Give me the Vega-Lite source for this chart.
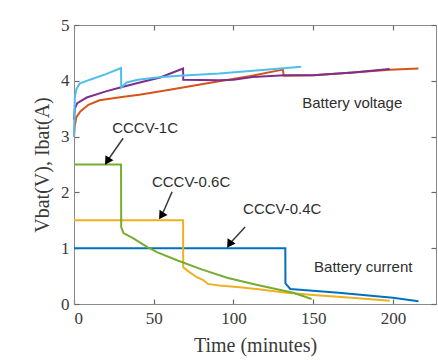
{
  "$schema": "https://vega.github.io/schema/vega-lite/v6.json",
  "width": 362,
  "height": 279,
  "autosize": {"type": "none"},
  "padding": {"left": 74, "top": 25, "right": 2, "bottom": 56},
  "background": "white",
  "config": {
    "view": {"stroke": "#8a8a8a", "strokeWidth": 1},
    "axis": {
      "domainColor": "#8a8a8a",
      "tickColor": "#6a6a6a",
      "tickSize": -5,
      "tickWidth": 1.2,
      "labelFont": "Liberation Serif",
      "labelFontSize": 17,
      "labelColor": "#3a3a3a",
      "titleFont": "Liberation Serif",
      "titleFontSize": 20,
      "titleFontWeight": "normal",
      "titleColor": "#3a3a3a",
      "grid": false
    }
  },
  "datasets": {
    "curves": [
      {"series": "I-0.4C", "t": 0, "v": 1.0},
      {"series": "I-0.4C", "t": 132.5, "v": 1.0},
      {"series": "I-0.4C", "t": 132.6, "v": 0.37},
      {"series": "I-0.4C", "t": 135.6, "v": 0.27},
      {"series": "I-0.4C", "t": 166, "v": 0.2},
      {"series": "I-0.4C", "t": 200, "v": 0.11},
      {"series": "I-0.4C", "t": 216, "v": 0.05},
      {"series": "V-0.4C", "t": 0, "v": 3.0},
      {"series": "V-0.4C", "t": 0.5, "v": 3.2},
      {"series": "V-0.4C", "t": 1.5, "v": 3.35},
      {"series": "V-0.4C", "t": 4, "v": 3.45},
      {"series": "V-0.4C", "t": 9, "v": 3.57},
      {"series": "V-0.4C", "t": 16, "v": 3.65},
      {"series": "V-0.4C", "t": 30, "v": 3.71},
      {"series": "V-0.4C", "t": 41, "v": 3.75},
      {"series": "V-0.4C", "t": 60, "v": 3.84},
      {"series": "V-0.4C", "t": 91, "v": 3.99},
      {"series": "V-0.4C", "t": 110, "v": 4.08},
      {"series": "V-0.4C", "t": 131, "v": 4.2},
      {"series": "V-0.4C", "t": 131.5, "v": 4.09},
      {"series": "V-0.4C", "t": 150, "v": 4.1},
      {"series": "V-0.4C", "t": 175, "v": 4.15},
      {"series": "V-0.4C", "t": 198, "v": 4.2},
      {"series": "V-0.4C", "t": 216, "v": 4.22},
      {"series": "I-0.6C", "t": 0, "v": 1.5},
      {"series": "I-0.6C", "t": 68.4, "v": 1.5},
      {"series": "I-0.6C", "t": 68.5, "v": 0.66},
      {"series": "I-0.6C", "t": 72, "v": 0.58},
      {"series": "I-0.6C", "t": 77, "v": 0.48},
      {"series": "I-0.6C", "t": 81, "v": 0.43},
      {"series": "I-0.6C", "t": 84, "v": 0.36},
      {"series": "I-0.6C", "t": 91, "v": 0.33},
      {"series": "I-0.6C", "t": 104, "v": 0.3},
      {"series": "I-0.6C", "t": 117, "v": 0.26},
      {"series": "I-0.6C", "t": 133, "v": 0.2},
      {"series": "I-0.6C", "t": 150, "v": 0.16},
      {"series": "I-0.6C", "t": 174, "v": 0.11},
      {"series": "I-0.6C", "t": 198, "v": 0.06},
      {"series": "V-0.6C", "t": 0, "v": 3.3},
      {"series": "V-0.6C", "t": 0.5, "v": 3.5},
      {"series": "V-0.6C", "t": 2, "v": 3.6},
      {"series": "V-0.6C", "t": 8, "v": 3.7},
      {"series": "V-0.6C", "t": 20, "v": 3.81},
      {"series": "V-0.6C", "t": 29, "v": 3.88},
      {"series": "V-0.6C", "t": 40, "v": 3.96},
      {"series": "V-0.6C", "t": 54, "v": 4.06},
      {"series": "V-0.6C", "t": 68.4, "v": 4.22},
      {"series": "V-0.6C", "t": 68.5, "v": 4.02},
      {"series": "V-0.6C", "t": 91, "v": 4.01},
      {"series": "V-0.6C", "t": 100, "v": 4.02},
      {"series": "V-0.6C", "t": 112, "v": 4.07},
      {"series": "V-0.6C", "t": 132, "v": 4.1},
      {"series": "V-0.6C", "t": 150, "v": 4.1},
      {"series": "V-0.6C", "t": 175, "v": 4.15},
      {"series": "V-0.6C", "t": 198, "v": 4.21},
      {"series": "I-1C", "t": 0, "v": 2.5},
      {"series": "I-1C", "t": 29.5, "v": 2.5},
      {"series": "I-1C", "t": 29.6, "v": 1.38},
      {"series": "I-1C", "t": 31, "v": 1.27},
      {"series": "I-1C", "t": 37, "v": 1.18},
      {"series": "I-1C", "t": 46, "v": 1.02},
      {"series": "I-1C", "t": 52, "v": 0.93},
      {"series": "I-1C", "t": 65, "v": 0.78},
      {"series": "I-1C", "t": 80, "v": 0.62},
      {"series": "I-1C", "t": 96, "v": 0.47},
      {"series": "I-1C", "t": 115, "v": 0.34},
      {"series": "I-1C", "t": 137.5, "v": 0.2},
      {"series": "I-1C", "t": 149, "v": 0.09},
      {"series": "V-1C", "t": 0, "v": 3.0},
      {"series": "V-1C", "t": 0.5, "v": 3.7},
      {"series": "V-1C", "t": 1.5, "v": 3.85},
      {"series": "V-1C", "t": 3.5, "v": 3.95},
      {"series": "V-1C", "t": 10, "v": 4.02},
      {"series": "V-1C", "t": 20, "v": 4.12},
      {"series": "V-1C", "t": 29.5, "v": 4.23},
      {"series": "V-1C", "t": 29.6, "v": 3.88},
      {"series": "V-1C", "t": 33, "v": 3.97},
      {"series": "V-1C", "t": 40, "v": 4.02},
      {"series": "V-1C", "t": 52, "v": 4.06},
      {"series": "V-1C", "t": 66, "v": 4.09},
      {"series": "V-1C", "t": 91, "v": 4.13},
      {"series": "V-1C", "t": 120, "v": 4.2},
      {"series": "V-1C", "t": 142.5, "v": 4.25}
    ],
    "labels": [
      {"label": "CCCV-1C", "t": 44.6, "v": 3.15},
      {"label": "CCCV-0.6C", "t": 73.4, "v": 2.19},
      {"label": "CCCV-0.4C", "t": 130.6, "v": 1.7},
      {"label": "Battery voltage", "t": 174.5, "v": 3.6},
      {"label": "Battery current", "t": 181.4, "v": 0.66}
    ],
    "arrows": [
      {"t": 30.8, "v": 2.97, "t2": 21.3, "v2": 2.58},
      {"t": 61.5, "v": 2.01, "t2": 55.2, "v2": 1.6},
      {"t": 107.3, "v": 1.38, "t2": 97.9, "v2": 1.09}
    ]
  },
  "layer": [
    {
      "data": {"name": "curves"},
      "mark": {"type": "line", "strokeWidth": 2, "interpolate": "linear"},
      "encoding": {
        "x": {"field": "t", "type": "quantitative", "scale": {"domain": [0, 227], "nice": false},
              "axis": {"orient": "bottom", "values": [0, 50, 100, 150, 200], "title": "Time (minutes)", "labelPadding": 11, "titlePadding": 9}},
        "y": {"field": "v", "type": "quantitative", "scale": {"domain": [0, 5], "nice": false},
              "axis": {"orient": "left", "values": [0, 1, 2, 3, 4, 5], "title": "Vbat(V), Ibat(A)", "labelPadding": 10, "titlePadding": 8}},
        "color": {"field": "series", "type": "nominal", "legend": null,
                  "scale": {"domain": ["V-1C", "V-0.6C", "V-0.4C", "I-1C", "I-0.6C", "I-0.4C"],
                            "range": ["#4DBEEE", "#7E2F8E", "#D95319", "#77AC30", "#EDB120", "#0072BD"]}}
      }
    },
    {
      "data": {"name": "labels"},
      "mark": {"type": "text", "font": "Liberation Sans", "fontSize": 15, "color": "#2e2e2e", "align": "center", "baseline": "middle"},
      "encoding": {
        "x": {"field": "t", "type": "quantitative", "axis": {"orient": "top", "values": [0, 50, 100, 150, 200], "labels": false, "title": null, "domain": false}},
        "y": {"field": "v", "type": "quantitative", "axis": {"orient": "right", "values": [0, 1, 2, 3, 4, 5], "labels": false, "title": null, "domain": false}},
        "text": {"field": "label"}
      }
    },
    {
      "data": {"name": "arrows"},
      "mark": {"type": "rule", "color": "#3a3a3a", "strokeWidth": 1.5},
      "encoding": {
        "x": {"field": "t", "type": "quantitative", "axis": null},
        "y": {"field": "v", "type": "quantitative", "axis": null},
        "x2": {"field": "t2"},
        "y2": {"field": "v2"}
      }
    },
    {
      "data": {"name": "arrows"},
      "mark": {"type": "point", "shape": "triangle", "filled": true, "color": "black", "size": 90, "angle": 213, "opacity": 1},
      "encoding": {
        "x": {"field": "t2", "type": "quantitative", "axis": null},
        "y": {"field": "v2", "type": "quantitative", "axis": null}
      }
    }
  ],
  "resolve": {"axis": {"x": "independent", "y": "independent"}}
}
